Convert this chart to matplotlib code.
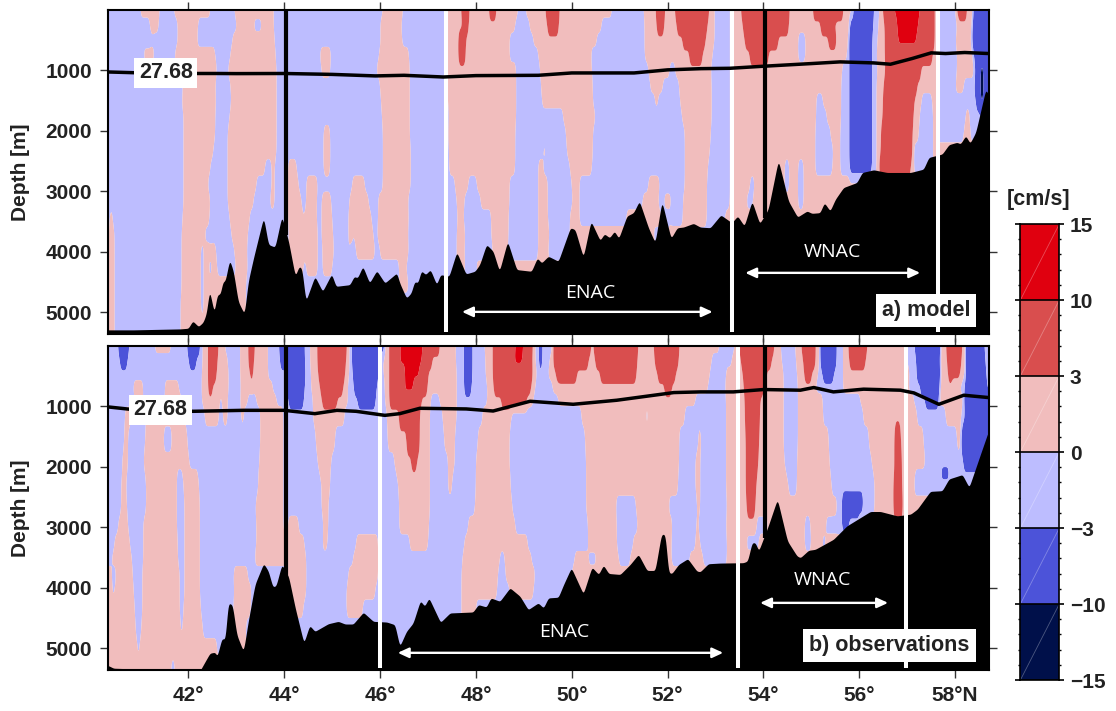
import numpy as np
import matplotlib
matplotlib.use("Agg")
import matplotlib.pyplot as plt
from matplotlib.colors import BoundaryNorm, ListedColormap

plt.rcParams['font.family'] = ['Liberation Sans', 'DejaVu Sans']

W, H = 1116, 711
LEVELS = [-15, -10, -3, 0, 3, 10, 15]
COLORS = ['#00104a', '#4c53d9', '#bdbdff', '#f1bdbd', '#d94e4e', '#e0000f']
CBAR_LABELS = ['\u221215', '\u221210', '\u22123', '0', '3', '10', '15']
TEXT = '#222222'
CLASS_VALUE = {'n': -12.0, 'B': -6.0, 'b': -1.5, 'p': 1.5, 'R': 6.0, 'D': 12.0}
LAT_MIN, LAT_MAX = 40.33, 58.70
DEPTH_MAX = 5350
XTICKS = [42, 44, 46, 48, 50, 52, 54, 56, 58]
XTICK_LABELS = ['42°', '44°', '46°', '48°', '50°', '52°', '54°', '56°', '58°N']
YTICKS = [1000, 2000, 3000, 4000, 5000]

# Each row: a velocity class followed by the latitude where it ends
MODEL_DEPTHS = [0, 250, 500, 720, 1000, 1250, 1500, 1750, 2050, 2330, 2600, 2880, 3160, 3435, 3710, 3990, 4265, 4540, 4820, 5350]
MODEL_ROWS = [
 "b 41.01 p 41.41 b 41.70 p 42.47 b 42.97 p 43.79 b 46.06 p 46.48 b 47.36 p 47.70 R 47.87 p 48.28 R 48.42 p 48.89 b 49.05 p 49.46 R 49.74 p 50.84 b 51.50 p 51.76 R 51.95 p 52.17 R 52.87 p 52.99 b 53.30 p 53.55 R 54.54 p 55.05 R 55.66 p 55.88 B 56.30 b 56.42 p 56.51 R 56.72 D 57.28 R 57.59 b 58.01 p 58.04 R 58.25 p 58.39 B 58.70",
 "b 41.20 p 41.39 b 41.79 p 42.21 b 43.02 p 43.36 b 43.55 p 43.79 b 46.00 p 46.45 b 47.36 p 47.74 R 47.84 p 48.82 b 49.13 p 49.50 R 49.72 p 50.63 b 51.53 p 51.78 R 51.92 p 52.20 R 52.83 p 52.99 b 53.30 p 53.58 R 54.52 p 55.20 R 55.39 p 55.81 B 56.28 b 56.40 p 56.54 R 56.79 D 57.24 R 57.59 b 58.06 p 58.36 B 58.70",
 "b 41.79 p 42.19 b 42.93 p 43.81 b 46.03 p 46.46 b 47.38 p 47.65 R 47.79 p 48.70 b 49.20 p 50.52 b 51.53 p 52.33 R 52.78 p 52.99 b 53.30 p 53.62 R 54.31 p 54.73 b 54.89 p 55.36 R 55.53 p 55.78 B 56.26 b 56.38 p 56.54 R 56.80 D 57.20 R 57.59 b 58.00 p 58.35 B 58.70",
 "b 41.07 p 41.30 b 41.72 p 42.57 b 42.88 p 43.83 b 44.75 p 44.99 b 45.98 p 46.60 b 47.32 p 47.65 R 47.79 p 48.70 b 49.30 p 50.41 b 51.53 p 52.47 R 52.72 p 52.95 b 53.30 p 53.72 R 54.10 p 54.73 b 54.89 p 55.74 b 55.81 B 56.26 b 56.37 p 56.55 R 57.52 p 57.62 b 58.04 p 58.39 B 58.70",
 "b 41.72 p 42.60 b 42.83 p 43.84 b 44.78 p 44.96 b 45.92 p 46.62 b 47.38 p 48.85 b 49.34 p 50.42 b 51.60 p 52.04 b 52.16 p 52.90 b 53.30 p 55.64 b 55.81 B 56.26 b 56.38 p 56.56 R 57.28 p 57.62 b 58.04 p 58.42 B 58.52 n 58.60 B 58.70",
 "b 41.90 p 42.56 b 42.88 p 43.85 b 46.00 p 46.62 b 47.38 p 48.85 b 49.36 p 50.44 b 51.65 p 51.90 b 52.25 p 52.92 b 53.30 p 55.62 b 55.80 B 56.26 b 56.37 p 56.52 R 57.20 p 57.60 b 58.00 p 58.18 b 58.40 B 58.52 n 58.60 B 58.70",
 "b 41.86 p 42.59 b 42.90 p 43.85 b 46.03 p 46.62 b 47.42 p 48.85 b 49.39 p 50.44 b 51.74 p 51.80 b 52.27 p 52.92 b 53.30 p 55.11 b 55.25 p 55.62 b 55.80 B 56.26 b 56.37 p 56.50 R 57.14 p 57.30 b 57.52 p 57.60 b 58.45 B 58.52 n 58.60 B 58.70",
 "b 41.90 p 42.57 b 42.87 p 43.85 b 46.05 p 46.62 b 47.44 p 48.84 b 49.83 p 50.50 b 52.30 p 52.92 b 53.30 p 55.10 b 55.33 p 55.62 b 55.80 B 56.26 b 56.36 p 56.50 R 57.12 p 57.27 b 57.55 p 57.60 b 58.22 p 58.30 b 58.70",
 "b 41.90 p 42.56 b 42.83 p 43.84 b 44.82 p 44.96 b 46.07 p 46.62 b 47.42 p 48.83 b 49.88 p 50.44 b 52.37 p 52.90 b 53.30 p 55.08 b 55.40 p 55.60 b 55.81 B 56.26 b 56.36 p 56.47 R 57.10 p 57.24 b 57.55 p 57.62 b 58.18 p 58.32 b 58.70",
 "b 41.90 p 42.53 b 42.83 p 43.84 b 44.82 p 44.96 b 46.07 p 46.65 b 47.44 p 48.82 b 49.41 p 49.47 b 49.90 p 50.44 b 52.37 p 52.88 b 53.30 p 55.08 b 55.46 p 55.60 b 55.80 B 56.26 b 56.36 p 56.47 R 57.10 p 57.15 b 57.55 p 58.70",
 "b 41.90 p 42.47 b 42.83 p 43.60 b 43.74 p 43.81 b 44.09 p 44.26 b 44.82 p 44.96 b 46.07 p 46.65 b 47.44 p 48.82 b 49.30 p 49.41 b 49.97 p 50.42 b 52.37 p 52.85 b 53.30 p 54.45 b 54.54 p 54.73 b 54.84 p 55.08 b 55.45 p 55.60 b 55.80 B 56.26 b 56.36 p 56.42 R 57.07 p 57.15 b 57.55 p 58.70",
 "b 41.90 p 42.40 b 42.83 p 43.43 b 43.74 p 43.81 b 44.09 p 44.30 b 44.47 p 44.70 b 45.43 p 45.69 b 46.07 p 46.65 b 47.56 p 47.84 b 48.03 p 48.71 b 49.30 p 49.51 b 50.00 p 50.17 b 51.60 p 51.85 b 52.37 p 52.82 b 53.30 p 53.72 b 53.83 p 54.45 b 54.54 p 54.73 b 54.84 p 58.70",
 "b 41.04 p 41.08 b 41.90 p 42.47 b 42.83 p 43.36 b 43.70 p 43.81 b 44.09 p 44.37 b 44.46 p 44.68 b 44.78 p 44.99 b 45.36 p 45.76 b 45.97 p 46.59 b 47.60 p 47.77 b 48.10 p 48.71 b 49.30 p 49.51 b 50.03 p 50.16 b 51.48 p 51.81 b 51.92 p 52.09 b 52.33 p 52.82 b 53.30 p 53.65 b 53.79 p 54.73 b 54.84 p 58.70",
 "b 40.36 p 40.42 b 41.88 p 42.45 b 42.87 p 43.29 b 44.09 p 44.40 b 44.43 p 44.69 b 44.78 p 45.00 b 45.34 p 45.48 b 45.51 p 45.83 b 45.97 p 46.60 b 47.62 p 47.75 b 48.33 p 48.68 b 49.30 p 49.50 b 49.97 p 50.17 b 51.15 p 51.88 b 52.33 p 52.82 b 53.20 p 58.70",
 "b 40.35 p 40.47 b 41.87 p 42.35 b 42.90 p 43.25 b 44.10 p 44.71 b 44.78 p 45.03 b 45.34 p 45.44 b 45.47 p 45.86 b 45.95 p 46.59 b 47.60 p 47.79 b 48.33 p 48.68 b 49.30 p 49.55 b 49.97 p 51.70 b 52.00 p 52.40 b 53.10 p 58.70",
 "b 40.35 p 40.47 b 41.86 p 42.26 b 42.33 p 42.59 b 42.97 p 43.22 b 44.09 p 44.70 b 44.80 p 45.05 b 45.34 p 45.37 b 45.50 p 45.90 b 46.00 p 46.60 b 47.60 p 47.77 b 48.36 p 48.66 b 49.30 p 49.50 b 49.95 p 58.70",
 "b 40.35 p 40.47 b 41.86 p 42.26 b 42.33 p 42.43 b 42.50 p 42.60 b 43.00 p 43.25 b 44.10 p 44.40 b 44.47 p 44.70 b 44.80 p 45.00 b 46.40 p 46.55 b 47.60 p 47.79 b 48.00 p 58.70",
 "b 40.35 p 40.47 b 41.87 p 42.26 b 42.33 p 43.20 b 46.40 p 46.60 b 47.50 p 47.60 b 58.70",
 "b 40.35 p 40.47 b 41.85 p 42.27 b 42.33 p 43.20 b 58.70",
 "b 40.35 p 40.47 b 41.85 p 43.20 b 58.70",
]
MODEL_BATHY_LAT = [40.33, 40.85, 41.83, 42.0, 42.09, 42.21, 42.31, 42.38, 42.44, 42.54, 42.6, 42.67, 42.72, 42.77, 42.86, 42.94, 43.04, 43.17, 43.25, 43.36, 43.57, 43.67, 43.81, 43.95, 44.09, 44.23, 44.31, 44.37, 44.45, 44.5, 44.64, 44.8, 44.99, 45.08, 45.37, 45.46, 45.53, 45.64, 45.78, 45.93, 46.1, 46.35, 46.41, 46.55, 46.65, 46.72, 46.79, 46.86, 46.95, 47.05, 47.18, 47.26, 47.44, 47.6, 47.79, 47.98, 48.08, 48.22, 48.36, 48.49, 48.66, 48.85, 49.16, 49.28, 49.37, 49.51, 49.72, 49.97, 50.07, 50.24, 50.4, 50.59, 50.68, 50.79, 50.89, 50.98, 51.15, 51.29, 51.41, 51.6, 51.74, 51.88, 52.07, 52.2, 52.33, 52.54, 52.68, 52.89, 53.11, 53.34, 53.46, 53.6, 53.76, 53.92, 54.1, 54.31, 54.52, 54.71, 54.91, 55.01, 55.18, 55.27, 55.39, 55.5, 55.67, 55.95, 56.06, 56.3, 56.58, 57.07, 57.34, 57.45, 57.73, 57.87, 58.04, 58.11, 58.22, 58.31, 58.43, 58.64, 58.71]
MODEL_BATHY_DEPTH = [5290, 5290, 5274, 5263, 5141, 5235, 5163, 5013, 4626, 5013, 4709, 4698, 4487, 4487, 4127, 4321, 4820, 5030, 4487, 4100, 3424, 3878, 3922, 3407, 3823, 4404, 4238, 4270, 4820, 4709, 4404, 4654, 4365, 4570, 4543, 4404, 4432, 4238, 4515, 4310, 4515, 4349, 4515, 4764, 4681, 4487, 4515, 4310, 4376, 4293, 4543, 4376, 4404, 4000, 4365, 4321, 4210, 3878, 3989, 4321, 3823, 4293, 4321, 4100, 4183, 4072, 4155, 3601, 3630, 4089, 3490, 3812, 3701, 3767, 3656, 3778, 3407, 3352, 3158, 3601, 3850, 3158, 3778, 3601, 3590, 3529, 3590, 3601, 3390, 3518, 3407, 3573, 3158, 3534, 3296, 2482, 3158, 3424, 3324, 3363, 3352, 3186, 3324, 3130, 2936, 2853, 2687, 2643, 2687, 2687, 2632, 2438, 2382, 2227, 2188, 2216, 2078, 2205, 2022, 1302, 1440]
MODEL_ISO_LAT = [40.33, 41.0, 42.0, 42.6, 43.0, 44.0, 45.0, 45.9, 46.5, 47.32, 48.0, 49.3, 50.0, 51.3, 52.0, 52.7, 53.3, 54.0, 55.0, 55.6, 56.3, 56.65, 57.1, 57.5, 57.8, 58.2, 58.7]
MODEL_ISO_DEPTH = [1025, 1040, 1050, 1050, 1052, 1050, 1065, 1090, 1080, 1108, 1085, 1080, 1041, 1041, 990, 970, 964, 930, 886, 858, 875, 897, 803, 709, 720, 703, 720]

OBS_DEPTHS = [0, 233, 454, 676, 897, 1090, 1562, 1950, 2116, 2282, 2670, 2947, 3280, 3501, 3778, 4055, 4332, 4665, 5000, 5350]
OBS_ROWS = [
 "b 40.54 B 40.77 b 41.30 p 41.65 b 41.98 B 42.24 b 42.31 p 42.42 R 42.63 p 42.77 b 43.08 p 43.27 R 43.39 p 43.67 b 43.91 B 44.43 b 44.54 p 44.71 R 45.30 p 45.36 b 45.43 B 45.97 b 46.00 B 46.10 p 46.21 R 46.42 D 46.91 R 47.25 p 47.58 b 47.77 B 47.93 b 48.19 p 48.36 R 48.83 D 49.00 R 49.18 p 49.25 b 49.32 B 49.39 b 49.60 p 49.63 R 50.40 p 50.47 R 51.39 p 51.72 R 52.25 p 53.09 b 53.41 p 53.50 R 54.22 p 54.36 b 54.66 p 54.80 R 55.09 p 55.18 B 55.53 b 55.67 p 55.79 R 56.17 p 56.97 b 57.17 B 57.71 p 57.82 R 58.15 p 58.23 B 58.61 b 58.70",
 "b 40.59 B 40.73 b 42.03 B 42.17 b 42.31 p 42.42 R 42.61 p 42.83 b 43.08 p 43.27 R 43.37 p 43.67 b 43.93 B 44.43 b 44.54 p 44.71 R 45.29 p 45.36 b 45.43 B 45.97 b 46.05 p 46.21 R 46.40 D 46.88 R 47.09 p 47.58 b 47.77 B 47.93 b 48.21 p 48.36 R 48.78 D 48.98 R 49.16 p 49.25 b 49.32 B 49.39 b 49.55 p 49.63 R 50.34 p 50.50 R 51.37 p 51.75 R 52.23 p 52.92 b 53.34 p 53.55 R 54.17 p 54.38 b 54.69 p 54.84 R 55.08 p 55.18 B 55.53 b 55.67 p 55.81 R 56.12 p 57.00 b 57.20 B 57.69 p 57.85 R 58.13 p 58.22 B 58.63 b 58.70",
 "b 42.28 p 42.42 R 42.59 p 42.85 b 43.08 p 43.30 R 43.35 p 43.67 b 44.07 B 44.45 b 44.57 p 44.73 R 45.26 p 45.36 b 45.44 B 45.97 b 46.08 p 46.21 R 46.52 D 46.83 R 47.00 p 47.60 b 47.76 B 47.93 b 48.21 p 48.36 R 49.18 p 49.28 b 49.51 p 49.69 R 50.10 p 50.60 R 51.35 p 51.81 R 52.16 p 52.89 b 53.23 p 53.58 R 54.07 p 54.42 b 54.70 p 54.87 R 55.01 p 55.15 b 55.25 B 55.46 b 55.67 p 57.07 b 57.21 B 57.71 p 57.87 R 58.11 p 58.23 B 58.65 b 58.70",
 "b 40.85 p 41.06 b 41.50 p 41.80 b 42.28 p 42.42 R 42.50 p 42.85 b 43.11 p 43.77 b 44.07 B 44.43 b 44.56 p 44.77 R 45.22 p 45.33 b 45.46 B 45.93 b 46.10 p 46.21 R 46.50 D 46.70 R 46.98 p 47.60 b 47.77 B 47.90 b 48.24 p 48.38 R 49.14 p 49.25 b 49.60 p 51.95 R 52.09 p 52.85 b 53.20 p 53.61 R 54.00 p 54.42 b 54.73 p 55.08 b 55.67 p 57.03 b 57.28 B 57.69 p 57.95 b 58.20 B 58.67 b 58.70",
 "b 40.88 p 41.06 b 41.53 p 41.87 b 42.28 p 42.66 b 42.71 p 42.83 b 43.08 p 43.25 b 43.43 p 43.84 b 44.10 B 44.40 b 44.60 p 44.80 R 45.10 p 45.34 b 45.55 B 45.90 b 46.10 p 46.21 R 46.86 p 47.07 b 47.25 p 47.60 b 48.24 p 48.54 R 49.06 p 49.20 b 49.72 p 52.58 b 53.23 p 53.62 R 53.93 p 54.42 b 54.73 p 55.25 b 56.02 p 57.14 b 57.38 B 57.66 p 58.18 B 58.70",
 "b 40.68 p 40.82 b 41.13 p 41.93 b 42.35 p 42.65 b 42.72 p 42.83 b 43.11 p 43.16 b 43.50 p 43.98 b 44.61 p 45.27 b 46.14 p 46.41 R 46.83 p 47.04 b 47.30 p 47.60 b 48.15 p 48.75 b 50.21 p 51.55 b 51.60 p 52.36 b 53.23 p 53.63 R 53.92 p 54.42 b 54.73 p 55.25 b 56.09 p 57.21 b 57.80 p 58.15 b 58.22 B 58.70",
 "b 40.66 p 40.75 b 41.10 p 41.48 b 41.67 p 41.98 b 43.50 p 43.98 b 44.66 p 45.06 b 46.17 p 46.56 R 46.83 p 47.04 b 47.35 p 47.56 b 48.05 p 48.71 b 50.28 p 52.25 b 52.65 p 52.70 b 53.23 p 53.65 R 53.90 p 54.43 b 54.73 p 55.36 b 56.20 p 56.75 R 56.86 p 57.34 b 58.04 p 58.12 B 58.70",
 "b 40.63 p 40.75 b 41.06 p 42.03 b 43.48 p 43.98 b 44.71 p 44.99 b 46.30 p 46.66 R 46.77 p 47.04 b 47.42 p 47.56 b 48.01 p 48.70 b 50.30 p 52.25 b 52.58 p 52.68 b 53.23 p 53.65 R 53.88 p 54.45 b 54.70 p 55.39 b 56.26 p 56.75 R 56.89 p 57.38 b 58.18 B 58.70",
 "b 40.62 p 40.73 b 41.10 p 41.77 b 41.88 p 42.20 b 43.47 p 43.98 b 44.75 p 44.97 b 46.35 p 47.04 b 47.42 p 47.52 b 48.01 p 48.72 b 50.30 p 52.23 b 52.58 p 52.68 b 53.23 p 53.65 R 53.87 p 54.48 b 54.70 p 55.41 b 56.30 p 56.74 R 56.89 p 57.17 b 57.71 B 57.89 b 58.70",
 "b 40.61 p 40.71 b 41.13 p 41.76 b 41.91 p 42.23 b 43.46 p 43.98 b 44.78 p 44.96 b 46.38 p 47.04 b 47.42 p 47.50 b 48.01 p 48.73 b 50.30 p 52.23 b 52.58 p 52.68 b 53.23 p 53.65 R 53.85 p 54.52 b 54.70 p 55.43 b 56.33 p 56.73 R 56.89 p 57.14 b 58.70",
 "b 40.60 p 40.72 b 41.13 p 41.77 b 41.93 p 42.24 b 43.41 p 43.98 b 44.78 p 44.92 b 46.40 p 47.04 b 47.98 p 48.76 b 50.31 p 50.93 b 51.34 p 52.02 b 52.62 p 52.68 b 53.25 p 53.67 R 53.83 p 55.55 b 55.64 B 56.09 b 56.33 p 56.73 R 56.90 p 58.70",
 "b 40.54 p 40.75 b 41.07 p 41.77 b 41.93 p 42.24 b 43.43 p 43.98 b 44.09 p 44.31 b 44.83 p 44.92 b 46.41 p 47.02 b 47.84 p 48.82 b 50.35 p 50.94 b 51.39 p 52.11 b 52.61 p 52.65 b 53.22 p 53.86 b 54.10 p 54.87 b 54.98 p 55.30 b 55.64 B 55.78 b 56.00 p 58.70",
 "b 40.47 p 40.78 b 41.06 p 41.79 b 41.93 p 42.24 b 43.43 p 44.43 b 44.80 p 44.90 b 45.51 p 45.97 b 46.62 p 47.00 b 47.77 p 49.09 b 50.35 p 50.94 b 51.29 p 52.09 b 52.58 p 52.68 b 53.25 p 53.65 b 53.90 p 54.87 b 55.00 p 55.23 b 55.30 p 58.70",
 "b 40.40 p 40.82 b 41.06 p 41.79 b 41.93 p 42.24 b 43.39 p 44.46 b 45.44 p 45.97 b 47.73 p 48.50 b 48.61 p 49.16 b 50.07 p 50.35 b 50.52 p 50.98 b 51.22 p 52.09 b 52.47 p 52.75 b 53.25 p 58.70",
 "p 40.40 b 40.50 p 40.85 b 41.05 p 41.83 b 41.93 p 42.24 b 42.94 p 43.25 b 44.09 p 44.46 b 45.34 p 45.97 b 47.70 p 48.47 b 48.63 p 49.24 b 50.00 p 58.70",
 "p 40.42 b 40.46 p 40.87 b 41.05 p 41.83 b 41.93 p 42.24 b 42.97 p 43.32 b 44.09 p 44.47 b 45.30 p 45.90 b 47.70 p 48.44 b 48.70 p 49.20 b 50.00 p 58.70",
 "p 40.89 b 41.05 p 41.83 b 41.91 p 42.27 b 42.95 p 43.30 b 44.20 p 44.40 b 45.30 p 45.65 b 47.70 p 48.00 b 50.00 p 58.70",
 "p 40.91 b 41.03 p 41.84 b 41.88 p 42.30 b 42.95 p 43.20 b 47.70 p 48.00 b 58.70",
 "p 40.95 b 40.98 p 42.60 b 42.80 p 43.20 b 58.70",
 "p 41.65 b 41.72 p 58.70",
]
OBS_BATHY_LAT = [40.33, 40.44, 42.24, 42.35, 42.45, 42.56, 42.6, 42.7, 42.77, 42.83, 42.92, 43.01, 43.15, 43.25, 43.39, 43.57, 43.67, 43.76, 43.83, 43.95, 44.09, 44.23, 44.41, 44.53, 44.64, 44.92, 45.13, 45.27, 45.44, 45.65, 45.86, 46.14, 46.31, 46.41, 46.55, 46.69, 46.84, 46.93, 47.02, 47.26, 47.46, 47.94, 48.05, 48.22, 48.31, 48.5, 48.71, 48.92, 49.09, 49.3, 49.41, 49.51, 49.72, 49.83, 49.99, 50.24, 50.42, 50.56, 50.66, 50.77, 51.01, 51.22, 51.39, 51.57, 51.74, 51.87, 51.95, 52.02, 52.09, 52.23, 52.42, 52.61, 52.68, 52.85, 53.09, 53.58, 53.67, 53.76, 53.83, 53.9, 54.1, 54.29, 54.5, 54.7, 54.77, 54.94, 55.08, 55.46, 55.74, 56.23, 56.44, 56.79, 57.07, 57.21, 57.48, 57.73, 57.87, 58.15, 58.29, 58.53, 58.7]
OBS_BATHY_DEPTH = [5285, 5329, 5374, 5219, 5080, 5064, 5140, 4831, 4860, 4249, 4277, 4776, 5052, 4554, 3944, 3595, 3723, 3983, 3970, 3612, 3806, 4332, 4914, 4620, 4720, 4593, 4554, 4598, 4598, 4404, 4554, 4565, 4609, 4969, 4720, 4582, 4210, 4305, 4166, 4570, 4415, 4399, 4277, 4316, 4166, 4222, 4000, 4138, 4360, 4249, 4332, 4166, 4155, 3944, 3667, 4100, 3656, 3778, 3623, 3762, 3778, 3612, 3446, 3712, 3712, 3113, 3113, 3751, 3762, 3612, 3518, 3723, 3734, 3601, 3590, 3584, 3556, 3252, 3252, 3390, 2975, 2532, 3224, 3473, 3501, 3379, 3363, 3197, 2975, 2737, 2737, 2809, 2781, 2698, 2404, 2393, 2199, 2127, 2338, 1784, 1396]
OBS_ISO_LAT = [40.33, 40.85, 42.1, 43.15, 44.0, 44.64, 45.1, 45.5, 46.1, 46.41, 46.83, 47.8, 48.36, 49.13, 50.03, 50.94, 52.13, 52.68, 53.37, 54.0, 54.77, 55.05, 55.46, 56.09, 56.86, 57.14, 57.66, 58.18, 58.7]
OBS_ISO_DEPTH = [1008, 1052, 1080, 1064, 1064, 1119, 1064, 1080, 1147, 1119, 1030, 1041, 1075, 914, 964, 897, 770, 759, 759, 720, 731, 687, 759, 714, 731, 776, 964, 814, 853]

MODEL_WHITE = [47.38, 53.35, 57.64]
OBS_WHITE = [46.0, 53.46, 56.97]
BLACK_LINES = [44.04, 54.03]


def gauss(sigma_cells):
    r = int(3 * sigma_cells) + 1
    k = np.exp(-0.5 * (np.arange(-r, r + 1) / sigma_cells) ** 2)
    return k / k.sum()


def smooth(f, kernel, axis):
    r = len(kernel) // 2
    pad = [(0, 0), (0, 0)]
    pad[axis] = (r, r)
    g = np.pad(f, pad, mode='edge')
    return np.apply_along_axis(lambda v: np.convolve(v, kernel, mode='valid'), axis, g)


def build_field(depths, rows):
    lat = np.arange(LAT_MIN, LAT_MAX + 0.02, 0.02)
    table = np.zeros((len(rows), lat.size))
    for i, row in enumerate(rows):
        tok = row.split()
        start = LAT_MIN - 1
        for c, e in zip(tok[0::2], tok[1::2]):
            e = float(e)
            table[i, (lat >= start) & (lat < e)] = CLASS_VALUE[c]
            start = max(start, e)
        table[i, lat >= start] = CLASS_VALUE[tok[-2]]
    dep = np.arange(0, DEPTH_MAX + 20, 20.0)
    fine = np.column_stack([np.interp(dep, depths, table[:, j]) for j in range(lat.size)])
    fine = smooth(fine, gauss(6.5), 0)
    fine = smooth(fine, gauss(1.2), 1)
    return lat, dep, fine


def rounded_floor(b_lat, b_dep):
    x = np.arange(LAT_MIN, LAT_MAX + 0.01, 0.01)
    y = np.interp(x, b_lat, b_dep)
    k = gauss(2.0)
    r = len(k) // 2
    return x, np.convolve(np.pad(y, r, mode='edge'), k, mode='valid')


def px_axes(l, t, r, b):
    return fig.add_axes([l / W, 1 - b / H, (r - l) / W, (b - t) / H])


def panel(ax, depths, rows, b_lat, b_dep, i_lat, i_dep, whites, iso_xy, tag, tag_xy,
          enac, wnac, bottom):
    lat, dep, f = build_field(depths, rows)
    ax.contourf(lat, dep, f, levels=LEVELS, colors=COLORS, zorder=1, antialiased=True)
    fx, fy = rounded_floor(b_lat, b_dep)
    ax.fill_between(fx, fy, DEPTH_MAX + 100, color='black', lw=0, zorder=2)
    for x in BLACK_LINES:
        d = np.interp(x, fx, fy) + 50
        ax.plot([x, x], [0, d], color='black', lw=3.0, zorder=3, solid_capstyle='butt')
    for x in whites:
        ax.plot([x, x], [0, 5325], color='white', lw=2.9, zorder=3, solid_capstyle='butt')
    ax.plot(i_lat, i_dep, color='black', lw=2.5, zorder=4)
    ax.text(iso_xy[0], iso_xy[1], '27.68', fontsize=15.5, fontweight='bold', color=TEXT,
            ha='center', va='center', zorder=6,
            bbox=dict(boxstyle='square,pad=0.22', fc='white', ec='none'))
    ax.text(tag_xy[0], tag_xy[1], tag, fontsize=15.5, fontweight='bold', color=TEXT,
            ha='center', va='center', zorder=6,
            bbox=dict(boxstyle='square,pad=0.28', fc='white', ec='none'))
    for (x0, x1, y, tx, ty, s) in (enac, wnac):
        ax.annotate('', xy=(x0, y), xytext=(x1, y), zorder=5,
                    arrowprops=dict(arrowstyle='<|-|>,head_length=0.65,head_width=0.3',
                                    color='white', lw=1.7, shrinkA=0, shrinkB=0))
        ax.text(tx, ty, s, color='white', fontsize=14, family='Open Sans',
                ha='center', va='center', zorder=5)
    ax.set_xlim(LAT_MIN, LAT_MAX)
    ax.set_ylim(DEPTH_MAX, 0)
    ax.set_xticks(XTICKS)
    ax.set_yticks(YTICKS)
    ax.tick_params(axis='both', which='major', direction='out', length=5.8, width=1.0,
                   color='#333333', top=True, right=True, bottom=True, left=True,
                   labelbottom=bottom, labelsize=15, labelcolor=TEXT)
    ax.tick_params(axis='x', pad=6)
    ax.tick_params(axis='y', pad=6)
    if bottom:
        ax.set_xticklabels(XTICK_LABELS)
    for t in ax.get_xticklabels() + ax.get_yticklabels():
        t.set_fontweight('bold')
    for s in ax.spines.values():
        s.set_linewidth(1.5)
        s.set_color('black')
        s.set_zorder(8)


fig = plt.figure(figsize=(W / 100, H / 100), dpi=100, facecolor='white')
ax_a = px_axes(108.3, 10, 988.7, 333.5)
ax_b = px_axes(108.3, 346, 988.7, 669.5)

panel(ax_a, MODEL_DEPTHS, MODEL_ROWS, MODEL_BATHY_LAT, MODEL_BATHY_DEPTH,
      MODEL_ISO_LAT, MODEL_ISO_DEPTH, MODEL_WHITE, (41.53, 1040), 'a) model', (57.39, 4970),
      (47.71, 52.94, 4992, 50.38, 4678, 'ENAC'), (53.62, 57.27, 4347, 55.43, 4000, 'WNAC'), False)
panel(ax_b, OBS_DEPTHS, OBS_ROWS, OBS_BATHY_LAT, OBS_BATHY_DEPTH,
      OBS_ISO_LAT, OBS_ISO_DEPTH, OBS_WHITE, (41.42, 1058), 'b) observations', (56.63, 4950),
      (46.37, 53.16, 5074, 49.84, 4727, 'ENAC'), (53.93, 56.60, 4248, 55.24, 3868, 'WNAC'), True)

for yy in (172, 508):
    fig.text(21 / W, 1 - yy / H, 'Depth [m]', rotation=90, fontsize=15, fontweight='bold',
             color=TEXT, ha='center', va='center')

# colour bar
cax = px_axes(1020.4, 224, 1059.3, 680)
edges = np.arange(len(LEVELS))
grid = np.array(LEVELS[:-1], dtype=float).reshape(-1, 1) + 0.5
cax.pcolormesh([0, 1], edges, grid, cmap=ListedColormap(COLORS),
               norm=BoundaryNorm(LEVELS, len(COLORS)))
for i in edges[:-1]:
    cax.plot([0, 1], [i, i + 1], color='white', lw=0.6, alpha=0.3)
    cax.axhline(i, color='black', lw=1.2)
cax.set_xlim(0, 1)
cax.set_ylim(0, len(LEVELS) - 1)
cax.set_xticks([])
cax.set_yticks(edges)
cax.set_yticklabels(CBAR_LABELS)
cax.set_yticks([i + k / 5 for i in edges[:-1] for k in range(1, 5)], minor=True)
cax.tick_params(axis='y', which='major', direction='out', length=3.5, width=1.2, left=True,
                right=True, labelleft=False, labelright=True, labelsize=15, labelcolor=TEXT, pad=4)
cax.tick_params(axis='y', which='minor', direction='out', length=1.5, width=1.0, left=True,
                right=True)
for t in cax.get_yticklabels():
    t.set_fontweight('bold')
for s in cax.spines.values():
    s.set_linewidth(1.2)
fig.text(1039 / W, 1 - 199 / H, '[cm/s]', fontsize=15.5, fontweight='bold', color=TEXT,
         ha='center', va='center')

fig.savefig('out.png', dpi=100)
